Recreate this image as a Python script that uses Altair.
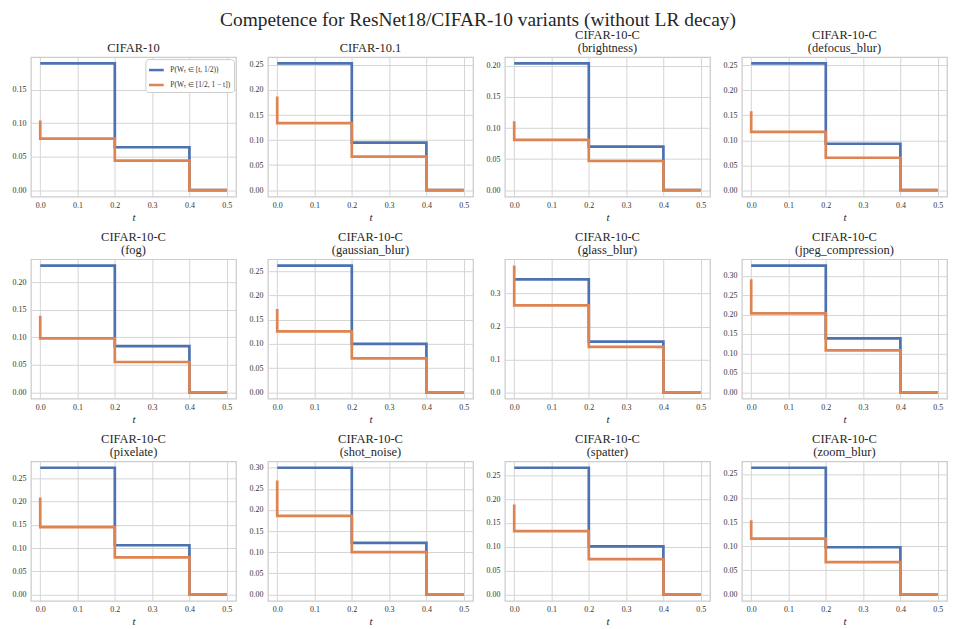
import altair as alt
import pandas as pd

# ---- data ----
PANEL_TITLES = [
    ["", "CIFAR-10"], ["", "CIFAR-10.1"], ["CIFAR-10-C", "(brightness)"], ["CIFAR-10-C", "(defocus_blur)"],
    ["CIFAR-10-C", "(fog)"], ["CIFAR-10-C", "(gaussian_blur)"], ["CIFAR-10-C", "(glass_blur)"], ["CIFAR-10-C", "(jpeg_compression)"],
    ["CIFAR-10-C", "(pixelate)"], ["CIFAR-10-C", "(shot_noise)"], ["CIFAR-10-C", "(spatter)"], ["CIFAR-10-C", "(zoom_blur)"],
]
T_BREAKS = [0.0, 0.2, 0.4, 0.5]
BLUE_LOW_T = [0.189, 0.253, 0.204, 0.254, 0.230, 0.262, 0.343, 0.326, 0.273, 0.300, 0.266, 0.263]
BLUE_MID_T = [0.064, 0.095, 0.070, 0.093, 0.084, 0.100, 0.154, 0.139, 0.106, 0.122, 0.101, 0.098]
ORANGE_T0 = [0.104, 0.187, 0.111, 0.158, 0.139, 0.172, 0.385, 0.291, 0.209, 0.270, 0.189, 0.154]
ORANGE_LOW_T = [0.077, 0.134, 0.081, 0.117, 0.098, 0.126, 0.264, 0.203, 0.145, 0.186, 0.133, 0.116]
ORANGE_MID_T = [0.044, 0.067, 0.047, 0.065, 0.055, 0.070, 0.138, 0.108, 0.080, 0.100, 0.074, 0.067]
X_TICKS = [0.0, 0.1, 0.2, 0.3, 0.4, 0.5]

LBL_BLUE = "P(Wₜ ∈ [t, 1/2))"
LBL_ORANGE = "P(Wₜ ∈ [1/2, 1 − t])"
BLUE = "#4C72B0"
ORANGE = "#DD8452"
FONT = "Liberation Serif"

W, H = 206, 140

charts = []
for i, title in enumerate(PANEL_TITLES):
    blue = pd.DataFrame({
        "t": T_BREAKS,
        "v": [BLUE_LOW_T[i], BLUE_MID_T[i], 0.0, 0.0],
        "series": LBL_BLUE,
    })
    blue["k"] = range(len(blue))
    orange = pd.DataFrame({
        "t": [T_BREAKS[0]] + T_BREAKS,
        "v": [ORANGE_T0[i], ORANGE_LOW_T[i], ORANGE_MID_T[i], 0.0, 0.0],
        "series": LBL_ORANGE,
    })
    orange["k"] = range(len(orange))

    vmax = max(BLUE_LOW_T[i], ORANGE_T0[i])
    step = 0.1 if vmax > 0.35 else 0.05
    fmt = ".1f" if step == 0.1 else ".2f"
    yt = [round(j * step, 2) for j in range(20) if j * step <= vmax + 1e-9]
    ydom = [-0.05 * vmax, 1.05 * vmax]

    xenc = alt.X("t:Q", scale=alt.Scale(domain=[-0.025, 0.525], nice=False, zero=False),
                 axis=alt.Axis(values=X_TICKS, format=".1f", title="t"))
    yenc = alt.Y("v:Q", scale=alt.Scale(domain=ydom, nice=False, zero=False),
                 axis=alt.Axis(values=yt, format=fmt, title=None))
    if i == 0:
        leg = alt.Legend(title=None, orient="top-right", offset=2, padding=2,
                         strokeColor="#cccccc", fillColor="white", cornerRadius=3,
                         symbolType="stroke", symbolSize=220, symbolStrokeWidth=2.5,
                         labelFont=FONT, labelFontSize=7.5, labelColor="#333333",
                         rowPadding=1, labelOffset=5, labelLimit=200)
    else:
        leg = None
    cenc = alt.Color("series:N", scale=alt.Scale(domain=[LBL_BLUE, LBL_ORANGE], range=[BLUE, ORANGE]),
                     legend=leg)

    lb = alt.Chart(blue).mark_line(interpolate="step-after", strokeWidth=2.7).encode(
        x=xenc, y=yenc, color=cenc, order="k:Q")
    lo = alt.Chart(orange).mark_line(interpolate="step-after", strokeWidth=2.7).encode(
        x=xenc, y=yenc, color=cenc, order="k:Q")
    c = alt.layer(lb, lo).properties(
        width=W, height=H,
        title=alt.TitleParams(text=title, font=FONT, fontSize=12.5, fontWeight="normal",
                              color="#262626", lineHeight=13, offset=3),
    )
    charts.append(c)

chart = alt.concat(*charts, columns=4, spacing=alt.RowColnumber(row=6, column=8)).resolve_scale(
    x="independent", y="independent", color="independent"
).resolve_legend(color="independent").properties(
    title=alt.TitleParams(text="Competence for ResNet18/CIFAR-10 variants (without LR decay)",
                          font=FONT, fontSize=19.5, fontWeight="normal", color="#262626",
                          anchor="middle", offset=-5, dy=-3),
    padding={"left": 0, "top": 0, "right": 0, "bottom": 0},
).configure_view(
    stroke="#cccccc", strokeWidth=1.25
).configure_axis(
    grid=True, gridColor="#d5d5d5", gridWidth=1, domain=False, ticks=False,
    labelFont=FONT, labelFontSize=8, labelColor="#333333",
    titleFont=FONT, titleFontSize=11, titleColor="#262626", titleFontWeight="normal",
).configure_axisX(
    labelPadding=5, titlePadding=2, titleFontStyle="italic", labelFlush=False,
).configure_axisY(
    labelPadding=5, minExtent=22, maxExtent=22,
)

chart.save("out.html", embed_options={"renderer": "svg", "actions": False})
